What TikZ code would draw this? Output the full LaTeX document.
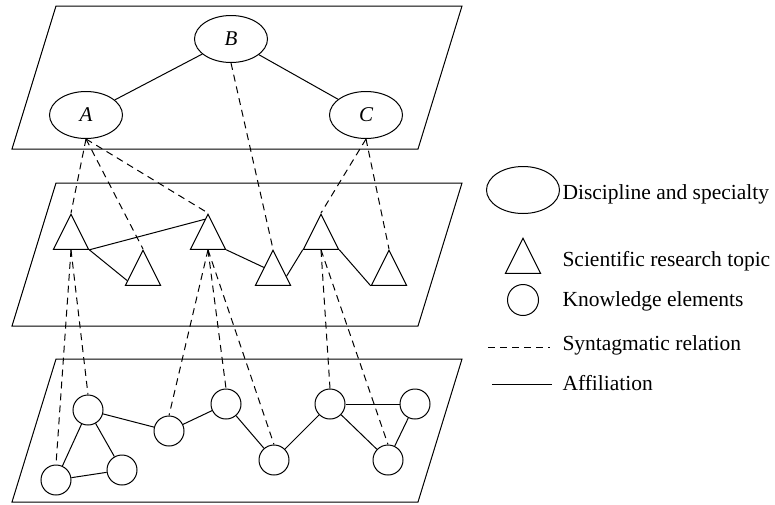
\documentclass[tikz,border=0pt]{standalone}
\usepackage{fontspec}
\setmainfont{Liberation Serif}
\usetikzlibrary{shapes.geometric,calc}

\begin{document}
\begin{tikzpicture}[x=1pt,y=-1pt,line width=1pt]
        \tikzset{
        plane/.style={draw},
        disc/.style={ellipse, draw, minimum width=73pt, minimum height=47pt,
        inner sep=0pt, font=\fontsize{21}{24}\selectfont\itshape},
        topic/.style={isosceles triangle, isosceles triangle stretches,
        shape border rotate=90, draw, minimum width=35pt, minimum height=35pt,
        inner sep=0pt, anchor=apex},
        know/.style={circle, draw, minimum size=30pt, inner sep=0pt},
        syn/.style={dash pattern=on 7pt off 5pt},
        aff/.style={-},
        lbl/.style={anchor=base west, inner sep=0pt, font=\fontsize{21.5}{24}\selectfont},
        }
        \useasboundingbox (0,0) rectangle (775,504);

        % three layers
        \draw[plane] (56,6) -- (462,6) -- (418,149) -- (12,149) -- cycle;
        \draw[plane] (56,183) -- (462,183) -- (418,326) -- (12,326) -- cycle;
        \draw[plane] (56,359) -- (462,359) -- (418,502) -- (12,502) -- cycle;

        % disciplines
        \node[disc] (B) at (231,39) {B};
        \node[disc] (A) at (86,115) {A};
        \node[disc] (C) at (366,115) {C};

        % topics
        \node[topic] (t1) at (71,213) {};
        \node[topic] (t2) at (143,249) {};
        \node[topic] (t3) at (208,213) {};
        \node[topic] (t4) at (273,249) {};
        \node[topic] (t5) at (321,213) {};
        \node[topic] (t6) at (389,249) {};

        % knowledge elements
        \node[know] (k1) at (88,410) {};
        \node[know] (k2) at (56,480) {};
        \node[know] (k3) at (122,470) {};
        \node[know] (k4) at (169,431) {};
        \node[know] (k5) at (226,404) {};
        \node[know] (k6) at (274,460) {};
        \node[know] (k7) at (330,404) {};
        \node[know] (k8) at (415,404) {};
        \node[know] (k9) at (388,460) {};

        \draw[aff] (A) edge (B);
        \draw[aff] (B) edge (C);

        \draw[syn] (A.south) edge (t1.apex);
        \draw[syn] (A.south) edge (t2.apex);
        \draw[syn] (A.south) edge (t3.apex);
        \draw[syn] (B.south) edge (t4.apex);
        \draw[syn] (C.south) edge (t5.apex);
        \draw[syn] (C.south) edge (t6.apex);

        \draw[aff] (t1.right corner) -- ($(t3.apex)!0.17!(t3.left corner)$);
        \draw[aff] (t1.right corner) -- ($(t2.apex)!0.86!(t2.left corner)$);
        \draw[aff] (t3.right corner) -- (t4.left side);
        \draw[aff] ($(t4.apex)!0.74!(t4.right corner)$) -- (t5.left corner);
        \draw[aff] (t5.right corner) -- (t6.left corner);

        \draw[syn] (t1.lower side) edge (k2.north);
        \draw[syn] (t1.lower side) edge (k1.north);
        \draw[syn] (t3.lower side) edge (k4.north);
        \draw[syn] (t3.lower side) edge (k5.north);
        \draw[syn] (t3.lower side) edge (k6.north);
        \draw[syn] (t5.lower side) edge (k7.north);
        \draw[syn] (t5.lower side) edge (k9.north);

        \draw[aff] (k1) edge (k2);
        \draw[aff] (k1) edge (k3);
        \draw[aff] (k2) edge (k3);
        \draw[aff] (k1) edge (k4);
        \draw[aff] (k4) edge (k5);
        \draw[aff] (k5) edge (k6);
        \draw[aff] (k6) edge (k7);
        \draw[aff] (k7) edge (k8);
        \draw[aff] (k7) edge (k9);
        \draw[aff] (k8) edge (k9);

        % legend
        \node[disc] (ldisc) at (523,190) {};
        \node[topic] (ltopic) at (523,237) {};
        \node[know, minimum size=31pt] (lknow) at (523,300) {};
        \coordinate (lsyn1) at (488,347);
        \coordinate (lsyn2) at (550,347);
        \coordinate (laff1) at (492,384);
        \coordinate (laff2) at (552,384);
        \draw[syn] (lsyn1) -- (lsyn2);
        \draw[aff] (laff1) -- (laff2);
        \node[lbl] (tdisc) at (562,199) {Discipline and specialty};
        \node[lbl] (ttopic) at (562,266) {Scientific research topic};
        \node[lbl] (tknow) at (562,306) {Knowledge elements};
        \node[lbl] (tsyn) at (562,350) {Syntagmatic relation};
        \node[lbl] (taff) at (562,390) {Affiliation};
\end{tikzpicture}
\end{document}
